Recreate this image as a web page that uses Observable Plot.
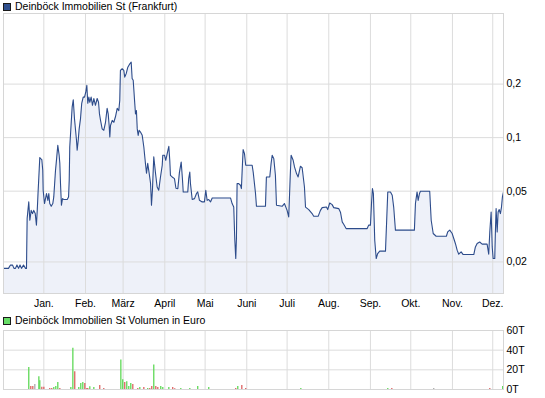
<!DOCTYPE html>
<html><head><meta charset="utf-8">
<script src="https://cdn.jsdelivr.net/npm/d3@7"></script>
<script src="https://cdn.jsdelivr.net/npm/@observablehq/plot@0.6"></script>
<style>
body{margin:0;background:#fff;}
#wrap{position:relative;width:545px;height:398px;overflow:hidden;font-family:"Liberation Sans",Arial,sans-serif;}
.sw{position:absolute;left:3px;width:6px;height:6px;border:1px solid #1a1a1a;}
.lt{position:absolute;left:15px;font-size:10.5px;line-height:13px;color:#000;white-space:nowrap;}
#wrap svg{position:absolute;left:0;}
</style></head><body><div id="wrap">
<div class="sw" style="top:3px;background:#2f4f8e"></div>
<div class="lt" id="title1" style="top:0px"></div>
<div class="sw" style="top:317px;background:#66dd66"></div>
<div class="lt" id="title2" style="top:314px"></div>
</div>
<script>
const priceTitle = "Deinböck Immobilien St (Frankfurt)";
const volumeTitle = "Deinböck Immobilien St Volumen in Euro";
const startDate = "2009-12-02";
const endDay = 372;
const monthStarts = ["2010-01-01","2010-02-01","2010-03-01","2010-04-01","2010-05-01","2010-06-01","2010-07-01","2010-08-01","2010-09-01","2010-10-01","2010-11-01","2010-12-01"];
const monthLabels = ["Jan.","Feb.","März","April","Mai","Juni","Juli","Aug.","Sep.","Okt.","Nov.","Dez."];
const priceTicks = [0.02,0.05,0.1,0.2];
const priceTickLabels = ["0,02","0,05","0,1","0,2"];
const volumeTicks = [0,20000,40000,60000];
const volumeTickLabels = ["0T","20T","40T","60T"];

// days after startDate
const priceDay = [0,3.7,5.2,6.7,7.8,8.9,10.0,11.2,12.3,13.4,14.9,16.4,17.1,17.6,18.8,19.6,20.6,21.6,22.5,23.6,24.5,25.1,25.8,26.6,27.0,27.7,28.5,29.2,29.5,30.5,32.0,33.0,33.7,34.4,35.5,36.7,37.4,38.7,39.2,40.4,41.4,41.9,42.4,43.1,43.9,44.9,47.4,48.4,48.9,49.3,50.4,51.1,51.9,52.8,54.3,54.8,55.6,56.3,57.3,58.2,59.3,60.3,61.2,62.0,62.7,63.5,64.2,65.2,66.2,67.2,68.4,69.7,70.7,71.4,72.2,73.4,74.6,75.9,77.1,77.9,78.6,79.1,79.6,80.9,82.1,83.3,84.6,85.8,86.5,87.0,88.3,89.5,90.2,91.3,92.5,94.0,95.0,95.7,96.5,97.5,98.2,98.9,99.5,100.2,100.9,101.9,103.2,104.4,105.6,106.4,107.3,108.6,109.4,110.1,110.8,111.8,113.1,114.3,115.5,116.8,118.1,118.5,119.8,120.7,121.8,123.0,123.7,124.2,125.5,127.2,128.3,129.7,130.9,132.2,133.2,133.7,137.1,137.8,138.6,139.1,140.4,142.1,143.6,144.5,145.8,147.8,149.5,150.5,151.5,152.7,154.0,155.3,168.9,170.1,171.3,172.1,172.8,173.3,173.8,175.0,176.3,177.0,177.8,178.3,179.3,180.2,185.0,185.8,187.5,188.2,194.9,195.6,198.1,199.1,199.9,201.1,202.3,203.1,207.3,209.0,211.0,212.2,213.5,214.0,215.5,216.5,218.0,219.2,220.9,222.2,223.9,224.7,227.1,229.6,230.8,234.1,235.8,237.1,240.3,241.2,242.7,244.5,245.7,249.4,250.7,252.0,253.1,254.9,270.6,271.7,273.0,273.8,274.5,275.2,276.2,277.3,278.4,279.9,284.2,284.9,285.9,287.9,289.2,290.3,291.6,305.7,306.5,307.7,308.5,309.5,310.2,317.1,318.2,319.7,321.9,329.5,330.5,332.0,333.8,335.0,336.2,337.5,338.7,340.5,342.0,349.9,351.1,352.4,354.3,356.1,359.8,361.0,361.8,362.8,363.6,364.3,365.5,366.0,366.5,367.3,368.0,368.8,369.7,370.5,371.2,372.0];
const priceValue = [0.0184,0.0184,0.0192,0.0192,0.0184,0.0184,0.0192,0.0184,0.0192,0.0184,0.0192,0.0184,0.0184,0.0351,0.0435,0.0343,0.0390,0.0374,0.0390,0.0374,0.0322,0.0390,0.0506,0.0669,0.0772,0.0762,0.0752,0.0655,0.0506,0.0426,0.0485,0.0444,0.0485,0.0426,0.0411,0.0426,0.0464,0.0655,0.0717,0.0905,0.0796,0.0717,0.0554,0.0417,0.0454,0.0449,0.0449,0.0464,0.0576,0.0886,0.122,0.149,0.163,0.128,0.0966,0.0849,0.0966,0.112,0.128,0.156,0.169,0.169,0.180,0.197,0.156,0.169,0.158,0.169,0.152,0.166,0.152,0.166,0.158,0.136,0.125,0.112,0.110,0.122,0.146,0.136,0.117,0.101,0.117,0.125,0.122,0.131,0.146,0.142,0.162,0.239,0.244,0.239,0.219,0.229,0.249,0.260,0.266,0.215,0.210,0.162,0.136,0.142,0.112,0.103,0.110,0.1075,0.103,0.0886,0.0717,0.0630,0.0717,0.0614,0.0554,0.0417,0.0506,0.0780,0.0630,0.0528,0.0506,0.0601,0.0699,0.0796,0.0796,0.0746,0.0813,0.0894,0.0746,0.0614,0.0601,0.0588,0.0519,0.0517,0.0638,0.0729,0.0576,0.0495,0.0495,0.0588,0.0641,0.0551,0.0449,0.0454,0.0485,0.0495,0.0444,0.0435,0.0435,0.0506,0.0444,0.0449,0.0435,0.0458,0.0458,0.0426,0.0407,0.0265,0.0209,0.0271,0.0551,0.0551,0.0540,0.0517,0.0715,0.0856,0.0813,0.0699,0.0699,0.0638,0.0485,0.0411,0.0411,0.0601,0.0601,0.0715,0.0796,0.0762,0.0614,0.0417,0.0411,0.0426,0.0390,0.0358,0.0655,0.0796,0.0746,0.0684,0.0628,0.0601,0.0690,0.0677,0.0528,0.0407,0.0394,0.0374,0.0361,0.0361,0.0390,0.0404,0.0407,0.0394,0.0429,0.0420,0.0404,0.0399,0.0381,0.0336,0.0326,0.0308,0.0308,0.0322,0.0322,0.0426,0.0517,0.0485,0.0265,0.0209,0.0223,0.0230,0.0230,0.0315,0.0495,0.0495,0.0474,0.0407,0.0302,0.0302,0.0426,0.0495,0.0444,0.0485,0.0499,0.0499,0.0343,0.0289,0.0279,0.0279,0.0295,0.0302,0.0289,0.0271,0.0254,0.0233,0.0221,0.0228,0.0220,0.0220,0.0243,0.0254,0.0259,0.0252,0.0252,0.0221,0.0295,0.0382,0.0243,0.0209,0.0209,0.0302,0.0399,0.0295,0.0382,0.0394,0.0374,0.0407,0.0464,0.0495];

const volumeDay = [18.8,20.3,21.8,23.3,26.3,27.0,28.5,30.0,34.4,35.9,37.4,38.9,40.4,41.9,50.1,51.6,53.0,56.0,57.5,59.0,60.5,62.0,62.7,64.2,67.2,71.6,74.6,87.3,88.7,90.2,91.7,93.2,94.7,96.2,99.9,101.4,104.4,107.3,108.8,110.3,111.8,113.3,114.8,117.0,118.5,123.0,125.9,127.4,131.9,138.6,144.5,152.7,172.8,174.3,177.3,180.2,221.2,285.9,288.9,320.1,361.8,371.4];
const volumeValue = [22300,3000,3000,5000,13000,9000,2300,2300,1000,1000,2000,3000,7000,1000,2000,42000,18000,2000,6000,7000,6000,1000,1000,2700,2000,4000,1000,30000,10000,7000,8000,3000,6000,5000,1000,2000,2000,1000,1000,3000,25000,3000,2000,3000,2000,2000,2000,700,1000,1000,3000,2000,1000,3000,4000,1000,1000,1000,1000,1000,1000,3000];
const volumeDir = ["up","down","down","flat","up","up","down","down","down","down","up","up","up","down","up","up","down","up","up","up","down","down","down","up","up","down","down","up","up","down","up","up","up","down","down","up","down","up","down","down","up","down","down","up","up","up","down","down","up","up","up","up","down","up","down","down","up","up","down","flat","down","up"];

if (priceDay.length !== priceValue.length) throw new Error("price length mismatch " + priceDay.length + " " + priceValue.length);
if (volumeDay.length !== volumeValue.length || volumeDay.length !== volumeDir.length) throw new Error("volume length mismatch");

document.getElementById("title1").textContent = priceTitle;
document.getElementById("title2").textContent = volumeTitle;

const t0 = new Date(startDate + "T00:00:00Z").getTime();
const toDate = d => new Date(t0 + d * 864e5);
const price = priceDay.map((d, i) => ({date: toDate(d), value: priceValue[i]}));
const volume = volumeDay.map((d, i) => ({date: toDate(d), value: volumeValue[i], dir: volumeDir[i]}));
const months = monthStarts.map(s => new Date(s + "T00:00:00Z"));
const monthFmt = d => monthLabels[d.getUTCMonth()];
const xDomain = [toDate(0), toDate(endDay)];
const yMin = 0.01329, yMax = 0.4989;
const gridColor = "#dcdcdc";
const font = {fontFamily: "'Liberation Sans', Arial, sans-serif", fontSize: "10.5px", color: "#000", background: "transparent", overflow: "visible"};

const p1 = Plot.plot({
  width: 545, height: 315,
  marginTop: 13, marginBottom: 22, marginLeft: 3, marginRight: 42,
  style: font,
  x: {type: "utc", domain: xDomain, axis: null, label: null},
  y: {type: "log", domain: [yMin, yMax], axis: null, label: null},
  marks: [
    Plot.areaY(price, {x: "date", y1: yMin, y2: "value", fill: "#eef1f9", curve: "linear"}),
    Plot.gridX(months, {stroke: gridColor, strokeOpacity: 1}),
    Plot.gridY(priceTicks, {stroke: gridColor, strokeOpacity: 1}),
    Plot.line(price, {x: "date", y: "value", stroke: "#2d4c8b", strokeWidth: 1.1}),
    Plot.frame({stroke: "#d6d6d6"}),
    Plot.axisX(months, {tickSize: 0, tickPadding: 6, tickFormat: monthFmt, fill: "#000", label: null}),
    Plot.axisY(priceTicks, {anchor: "right", tickSize: 0, tickPadding: 3, tickFormat: d => priceTickLabels[priceTicks.indexOf(d)], fill: "#000", label: null})
  ]
});
p1.style.top = "0px";
document.getElementById("wrap").appendChild(p1);

const p2 = Plot.plot({
  width: 545, height: 83,
  marginTop: 15, marginBottom: 9, marginLeft: 3, marginRight: 42,
  style: font,
  x: {type: "utc", domain: xDomain, axis: null, label: null},
  y: {domain: [0, 60000], axis: null, label: null},
  color: {domain: ["up", "down", "flat"], range: ["#5fd957", "#dd6262", "#aaaaaa"]},
  marks: [
    Plot.gridX(months, {stroke: gridColor, strokeOpacity: 1}),
    Plot.gridY(volumeTicks, {stroke: gridColor, strokeOpacity: 1}),
    Plot.ruleX(volume, {x: "date", y1: 0, y2: "value", stroke: "dir", strokeWidth: 1.3}),
    Plot.frame({stroke: "#d6d6d6"}),
    Plot.axisY(volumeTicks, {anchor: "right", tickSize: 0, tickPadding: 3, tickFormat: d => volumeTickLabels[volumeTicks.indexOf(d)], fill: "#000", label: null})
  ]
});
p2.style.top = "315px";
document.getElementById("wrap").appendChild(p2);
</script>
</body></html>
